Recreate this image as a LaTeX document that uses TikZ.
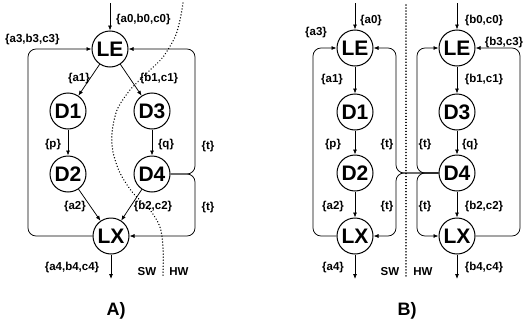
\documentclass[tikz,border=0pt]{standalone}
\usepackage{fontspec}
\setmainfont{Liberation Sans}
\usetikzlibrary{arrows.meta}
\begin{document}
\begin{tikzpicture}[x=1pt,y=-1pt,
 st/.style={circle,draw,line width=1pt,minimum size=36pt,inner sep=0pt,font=\fontsize{21}{21}\selectfont\bfseries},
 lab/.style={font=\fontsize{11.5}{12}\selectfont\bfseries,inner sep=0pt},
 ttl/.style={font=\fontsize{18}{18}\selectfont\bfseries,inner sep=0pt},
 arr/.style={line width=0.75pt,-{Latex[length=5pt,width=4pt]}},
 loopline/.style={arr,rounded corners=8pt},
 sep/.style={line width=1.5pt,dash pattern=on 0.01pt off 3pt,line cap=round}]
\useasboundingbox (0,0) rectangle (524,324);
% ---------- Panel A ----------
\node[st] (LEa) at (110,49) {LE};
\node[st] (D1a) at (68,111) {D1};
\node[st] (D3a) at (152,111) {D3};
\node[st] (D2a) at (68,174) {D2};
\node[st] (D4a) at (152,174) {D4};
\node[st] (LXa) at (111,236) {LX};
\coordinate (ina) at (110,3);
\coordinate (outa) at (111,279);
\coordinate (aL) at (28,140);
\coordinate (aR) at (195,140);
\draw[arr] (ina) -- (LEa);
\draw[arr] (LEa) -- (D1a);
\draw[arr] (LEa) -- (D3a);
\draw[arr] (D1a) -- (D2a);
\draw[arr] (D3a) -- (D4a);
\draw[arr] (D2a) -- (LXa);
\draw[arr] (D4a) -- (LXa);
\draw[arr] (LXa) -- (outa);
\draw[loopline] (LXa.west) -| (aL) |- (LEa.west);
\draw[loopline] (D4a.east) -| (aR) |- (LEa.east);
\draw[loopline] (D4a.east) -| (aR |- LXa.east) -- (LXa.east);
\draw[sep] plot[smooth] coordinates {(183,3) (180,20) (175,37) (163,57) (147,73) (130,90) (117,110) (112,133) (113,152) (120,173) (133,193) (150,210) (160,227) (163,247) (163,276)};
\node[lab,anchor=west] (la0) at (116,20) {\{a0,b0,c0\}};
\node[lab,anchor=west] (la3) at (5,40) {\{a3,b3,c3\}};
\node[lab] (la1) at (79,79) {\{a1\}};
\node[lab] (lb1) at (159,79) {\{b1,c1\}};
\node[lab] (lp) at (53,145) {\{p\}};
\node[lab] (lq) at (166,145) {\{q\}};
\node[lab] (la2) at (75,207) {\{a2\}};
\node[lab] (lb2) at (153,207) {\{b2,c2\}};
\node[lab] (la4) at (72,268) {\{a4,b4,c4\}};
\node[lab] (lt1) at (208,147) {\{t\}};
\node[lab] (lt2) at (208,208) {\{t\}};
\node[lab] (swa) at (147,272) {SW};
\node[lab] (hwa) at (179,272) {HW};
\node[ttl] (ta) at (116,311) {A)};
% ---------- Panel B ----------
\node[st] (LEb1) at (355,48) {LE};
\node[st] (D1b) at (355,112) {D1};
\node[st] (D2b) at (355,173) {D2};
\node[st] (LXb1) at (355,236) {LX};
\node[st] (LEb2) at (457,48) {LE};
\node[st] (D3b) at (457,112) {D3};
\node[st] (D4b) at (457,173) {D4};
\node[st] (LXb2) at (457,236) {LX};
\coordinate (inb1) at (355,3);
\coordinate (inb2) at (457,3);
\coordinate (outb1) at (355,279);
\coordinate (outb2) at (457,279);
\coordinate (bL) at (313,140);
\coordinate (bM) at (396,140);
\coordinate (bN) at (417,140);
\coordinate (bR) at (520,140);
\draw[arr] (inb1) -- (LEb1);
\draw[arr] (LEb1) -- (D1b);
\draw[arr] (D1b) -- (D2b);
\draw[arr] (D2b) -- (LXb1);
\draw[arr] (LXb1) -- (outb1);
\draw[arr] (inb2) -- (LEb2);
\draw[arr] (LEb2) -- (D3b);
\draw[arr] (D3b) -- (D4b);
\draw[arr] (D4b) -- (LXb2);
\draw[arr] (LXb2) -- (outb2);
\draw[loopline] (LXb1.west) -| (bL) |- (LEb1.west);
\draw[loopline] (LXb2.east) -| (bR) |- (LEb2.east);
\draw[loopline] (D4b.west) -| (bM) |- (LEb1.east);
\draw[loopline] (D4b.west) -| (bM |- LXb1.east) -- (LXb1.east);
\draw[loopline] (D4b.west) -| (bN) |- (LEb2.west);
\draw[loopline] (D4b.west) -| (bN |- LXb2.west) -- (LXb2.west);
\coordinate (sept) at (406,5);
\coordinate (sepb) at (406,276);
\draw[sep] (sept) -- (sepb);
\node[lab] (lba0) at (371,21) {\{a0\}};
\node[lab] (lbb0) at (484,21) {\{b0,c0\}};
\node[lab] (lba3) at (316,33) {\{a3\}};
\node[lab] (lbb3) at (504,43) {\{b3,c3\}};
\node[lab] (lba1) at (332,80) {\{a1\}};
\node[lab] (lbb1) at (484,80) {\{b1,c1\}};
\node[lab] (lbp) at (333,145) {\{p\}};
\node[lab] (lbq) at (470,145) {\{q\}};
\node[lab] (lbt1) at (387,145) {\{t\}};
\node[lab] (lbt2) at (425,145) {\{t\}};
\node[lab] (lba2) at (333,207) {\{a2\}};
\node[lab] (lbb2) at (484,207) {\{b2,c2\}};
\node[lab] (lbt3) at (387,207) {\{t\}};
\node[lab] (lbt4) at (425,207) {\{t\}};
\node[lab] (lba4) at (333,268) {\{a4\}};
\node[lab] (lbb4) at (484,268) {\{b4,c4\}};
\node[lab] (swb) at (390,272) {SW};
\node[lab] (hwb) at (423,272) {HW};
\node[ttl] (tb) at (407,311) {B)};
\end{tikzpicture}
\end{document}
